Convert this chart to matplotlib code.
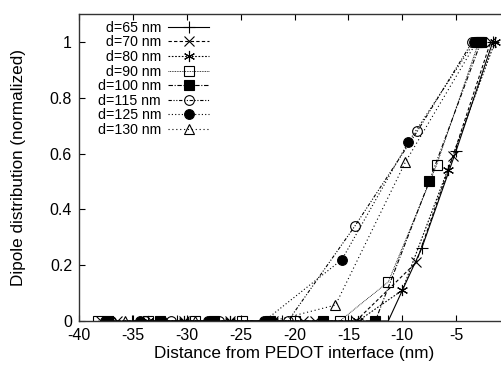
import numpy as np
import matplotlib.pyplot as plt

plt.rcParams['font.family'] = ['Liberation Sans', 'DejaVu Sans']
plt.rcParams['axes.unicode_minus'] = False

labels = ['d=65 nm', 'd=70 nm', 'd=80 nm', 'd=90 nm',
          'd=100 nm', 'd=115 nm', 'd=125 nm', 'd=130 nm']

# distance from interface (nm) and normalized dipole distribution
x65 = [-35.1, -30.9, -21.2, -14.8, -11.3, -8.2, -5.0, -1.6]
y65 = [0, 0, 0, 0, 0, 0.26, 0.61, 1]
x70 = [-38.0, -36.5, -30.3, -26.0, -22.0, -19.2, -18.1, -14.3, -8.7, -5.3, -1.8]
y70 = [0, 0, 0, 0, 0, 0, 0, 0, 0.21, 0.59, 1]
x80 = [-33.6, -30.3, -26.0, -22.0, -14.1, -10.0, -5.8, -1.4]
y80 = [0, 0, 0, 0, 0, 0.11, 0.54, 1]
x90 = [-38.2, -33.6, -29.2, -24.9, -20.0, -15.8, -11.3, -6.8, -2.9]
y90 = [0, 0, 0, 0, 0, 0, 0.14, 0.56, 1]
x100 = [-37.3, -32.5, -27.5, -22.3, -17.4, -12.5, -7.5, -2.7]
y100 = [0, 0, 0, 0, 0, 0, 0.50, 1]
x115 = [-37.0, -33.9, -31.5, -27.0, -20.6, -14.4, -8.6, -3.5]
y115 = [0, 0, 0, 0, 0, 0.34, 0.68, 1]
x125 = [-37.6, -34.3, -32.3, -28.0, -22.8, -15.6, -9.45, -3.3]
y125 = [0, 0, 0, 0, 0, 0.22, 0.64, 1]
x130 = [-35.7, -29.2, -22.0, -16.2, -9.7, -3.1]
y130 = [0, 0, 0, 0.057, 0.57, 1]

xs = [x65, x70, x80, x90, x100, x115, x125, x130]
ys = [y65, y70, y80, y90, y100, y115, y125, y130]

styles = [
    dict(marker='+', ls='-', mfc='none', ms=9),
    dict(marker='x', ls=(0, (3, 2)), mfc='none', ms=7),
    dict(marker=(6, 2, 0), ls=(0, (1.5, 1.5)), mfc='none', ms=8),
    dict(marker='s', ls=(0, (1, 1)), mfc='none', ms=7, lw=0.6),
    dict(marker='s', ls=(0, (4, 1.5, 1, 1.5)), mfc='black', ms=7),
    dict(marker='o', ls=(0, (3, 1.5, 1, 1.5, 1, 1.5)), mfc='none', ms=7),
    dict(marker='o', ls=(0, (1, 2)), mfc='black', ms=7),
    dict(marker='^', ls=(0, (1, 2.5)), mfc='none', ms=7),
]

fig = plt.figure(figsize=(5.02, 3.65), dpi=100)
ax = fig.add_axes([79 / 502, 44 / 365, 431 / 502, 307 / 365])

for x, y, lab, st in zip(xs, ys, labels, styles):
    lw = st.pop('lw', 0.8)
    # pad short labels with a figure space so the text looks right-aligned
    if len(lab) < 8:
        lab = '\u2007' + lab
    ax.plot(x, y, color='black', lw=lw, mec='black', mew=0.8, label=lab, **st)

ax.set_xlim(-40, 0)
ax.set_ylim(0, 1.1)
ax.set_xticks(np.arange(-40, 0, 5))
ax.set_yticks([0, 0.2, 0.4, 0.6, 0.8, 1])
ax.set_yticklabels(['0', '0.2', '0.4', '0.6', '0.8', '1'])
ax.tick_params(direction='in', top=True, right=True, length=4, labelsize=11.5, pad=5)
for s in ax.spines.values():
    s.set_linewidth(1)
    s.set_color('#333333')

ax.set_xlabel('Distance from PEDOT interface (nm)', fontsize=12.3, labelpad=2)
ax.set_ylabel('Dipole distribution (normalized)', fontsize=12.3, labelpad=17)

leg = ax.legend(loc='upper left', bbox_to_anchor=(0.02, 1.01), frameon=False,
                markerfirst=False, fontsize=10.2, handlelength=2.9,
                labelspacing=0.04, handletextpad=0.5, borderpad=0.2)

fig.savefig('out.png', dpi=100)
